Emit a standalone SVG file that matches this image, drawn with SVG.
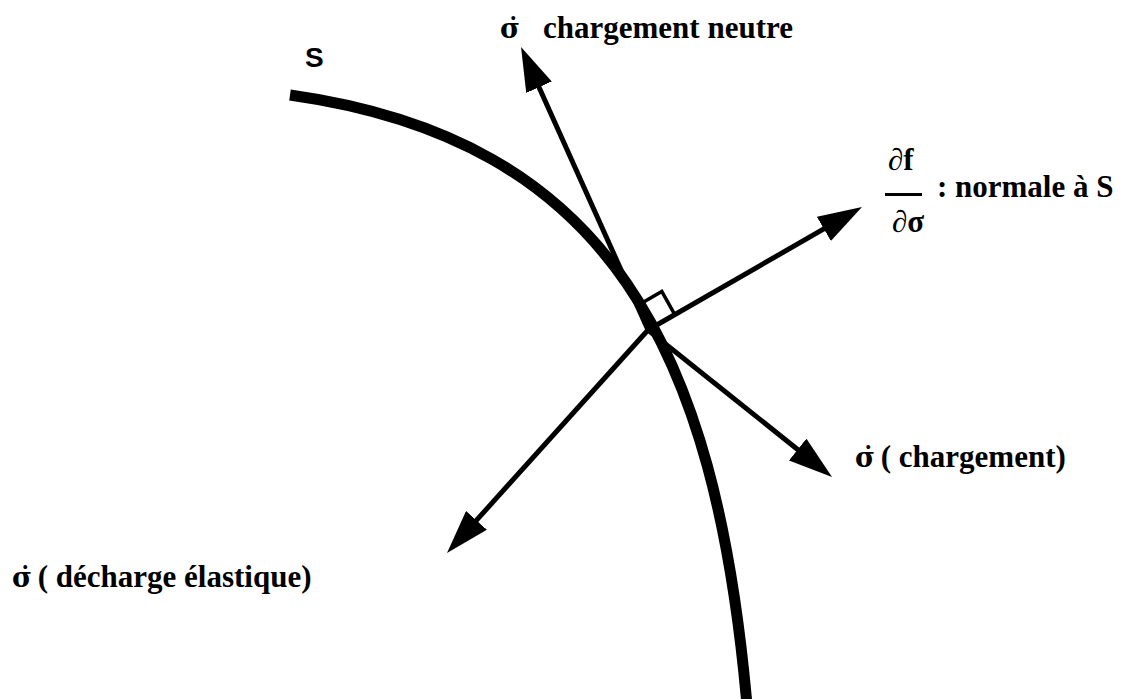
<svg xmlns="http://www.w3.org/2000/svg" width="1134" height="699" viewBox="0 0 1134 699">
<style>
.lbl{font-family:"Liberation Serif","Times New Roman",serif;font-weight:bold;font-size:31px;fill:#000}
.sig{font-family:"DejaVu Serif",serif;font-weight:bold;font-size:27px}
.arr{stroke:#000;stroke-width:5;fill:none}
</style>
<defs>
<marker id="head" viewBox="0 0 44 28" refX="14" refY="14" markerWidth="44" markerHeight="28" markerUnits="userSpaceOnUse" orient="auto">
<path d="M0,0 L44,14 L0,28 z" fill="#000"/>
</marker>
</defs>
<rect width="1134" height="699" fill="#fff"/>
<g id="surface-S">
<path d="M290,95 C610,140 715.5,349 747,705" fill="none" stroke="#000" stroke-width="11"/>
<text x="305" y="67" font-family="Liberation Sans, Arial, sans-serif" font-weight="bold" font-size="28">S</text>
</g>
<g id="connectors">
<line class="arr" x1="648" y1="330" x2="533.3" y2="74.4" marker-end="url(#head)"/>
<line class="arr" x1="648" y1="330" x2="836" y2="221.9" marker-end="url(#head)"/>
<line class="arr" x1="648" y1="330" x2="808.6" y2="458.3" marker-end="url(#head)"/>
<line class="arr" x1="648" y1="330" x2="467.1" y2="530.7" marker-end="url(#head)"/>
<polyline points="639.3,304.4 661.8,291.5 674.5,314.1" fill="none" stroke="#000" stroke-width="3.5"/>
</g>
<g id="label-neutre">
<text class="lbl"><tspan x="500" y="38" class="sig">σ̇</tspan><tspan x="543" y="38">chargement neutre</tspan></text>
</g>
<g id="label-normale">
<text class="lbl" x="888" y="170">∂f</text>
<line x1="885" y1="194.5" x2="922" y2="194.5" stroke="#000" stroke-width="3"/>
<text class="lbl" x="892" y="232">∂σ</text>
<text class="lbl" x="937" y="197">:</text>
<text class="lbl" x="955" y="197">normale à S</text>
</g>
<g id="label-chargement">
<text class="lbl"><tspan x="855" y="467" class="sig">σ̇</tspan><tspan x="873" y="467"> ( chargement)</tspan></text>
</g>
<g id="label-decharge">
<text class="lbl"><tspan x="12" y="587" class="sig">σ̇</tspan><tspan x="30" y="587"> ( décharge élastique)</tspan></text>
</g>
</svg>
